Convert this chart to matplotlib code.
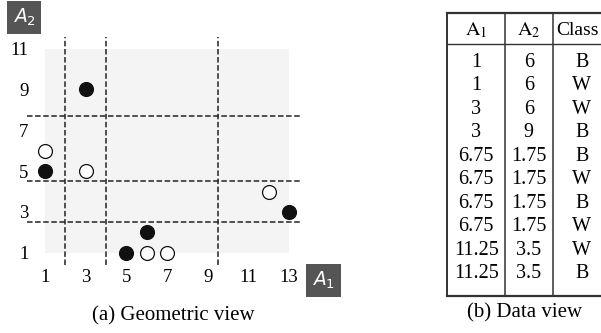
import numpy as np
import matplotlib.pyplot as plt
from matplotlib.patches import Rectangle

# geometric view points
white_x = [1, 3, 12, 6, 7]
white_y = [6, 5, 4, 1, 1]
black_x = [3, 1, 13, 6, 5]
black_y = [9, 5, 3, 2, 1]

# grid split lines
split_x = [2, 4, 9.5]
split_y = [2.5, 4.5, 7.7]

xticks = [1, 3, 5, 7, 9, 11, 13]
yticks = [1, 3, 5, 7, 9, 11]

# data view table
tab_head = [r'$\mathrm{A}_1$', r'$\mathrm{A}_2$', 'Class']
tab_a1 = ['1', '1', '3', '3', '6.75', '6.75', '6.75', '6.75', '11.25', '11.25']
tab_a2 = ['6', '6', '6', '9', '1.75', '1.75', '1.75', '1.75', '3.5', '3.5']
tab_cls = ['B', 'W', 'W', 'B', 'B', 'W', 'B', 'W', 'W', 'B']

W, H = 601, 333
fig = plt.figure(figsize=(W / 100, H / 100), dpi=100)
serif = 'Liberation Serif'

# ---- (a) geometric view
ax = fig.add_axes([27 / W, 1 - 265 / H, 275 / W, 228 / H])
ax.set_xlim(0.11, 13.64)
ax.set_ylim(0.4, 11.57)
ax.add_patch(Rectangle((1, 1), 12, 10, fc='#f4f4f4', ec='none', zorder=0))
dash = (0, (3.6, 1.7))
for x in split_x:
    ax.axvline(x, color='#222222', lw=1.1, ls=dash, zorder=1)
for y in split_y:
    ax.axhline(y, color='#222222', lw=1.1, ls=dash, zorder=1)
ax.scatter(white_x, white_y, s=100, c='white', edgecolors='#111111', linewidths=0.9, zorder=3)
ax.scatter(black_x, black_y, s=100, c='#111111', edgecolors='#111111', linewidths=0.9, zorder=3)
for s in ax.spines.values():
    s.set_visible(False)
ax.set_xticks(xticks)
ax.set_yticks(yticks)
ax.tick_params(length=0, labelsize=13.5, pad=3)
ax.tick_params(axis='y', pad=-1)
for lab in ax.get_xticklabels() + ax.get_yticklabels():
    lab.set_fontfamily(serif)

box = dict(boxstyle='square,pad=0.3', fc='#555555', ec='none')
fig.text(24 / W, 1 - 17.5 / H, r'$A_2$', color='white', fontsize=13.5, ha='center', va='center',
         bbox=box, math_fontfamily='dejavusans')
fig.text(323.5 / W, 1 - 280.5 / H, r'$A_1$', color='white', fontsize=13.5, ha='center', va='center',
         bbox=box, math_fontfamily='dejavusans')

fig.text(173 / W, 1 - 316 / H, '(a) Geometric view', fontsize=15, family=serif,
         ha='center', va='center')

# ---- (b) data view table
col_w = [57.7, 47.7, 58.0]
edges = np.concatenate([[0], np.cumsum(col_w)])
top, hline, bottom = -2.098, -0.766, 9.957
tx = fig.add_axes([447.3 / W, 1 - 296 / H, edges[-1] / W, (296 - 12.7) / H])
tx.set_xlim(0, edges[-1])
tx.set_ylim(bottom, top)
tx.axis('off')
centers = (edges[:-1] + edges[1:]) / 2
head_x = [centers[0], centers[1], edges[2] + 3.5]
head_ha = ['center', 'center', 'left']
lc = '#333333'
tx.plot([0, edges[-1]], [top, top], color=lc, lw=1.6, clip_on=False)
tx.plot([0, edges[-1]], [bottom, bottom], color=lc, lw=1.6, clip_on=False)
tx.plot([0, edges[-1]], [hline, hline], color=lc, lw=1.0, clip_on=False)
for e in edges[:-1]:
    tx.plot([e, e], [top, bottom], color=lc, lw=1.1 if e > 0 else 1.4, clip_on=False)
for j, h in enumerate(tab_head):
    tx.text(head_x[j], -1.35, h, fontsize=14.5 if j < 2 else 14, family=serif,
            ha=head_ha[j], va='center', math_fontfamily='stix')
for i in range(len(tab_a1)):
    for j, v in enumerate([tab_a1[i], tab_a2[i], tab_cls[i]]):
        tx.text(centers[j], i, v, fontsize=14.5, family=serif, ha='center', va='center')

fig.text(525 / W, 1 - 313 / H, '(b) Data view', fontsize=15, family=serif,
         ha='center', va='center')

fig.savefig('out.png', dpi=100)
